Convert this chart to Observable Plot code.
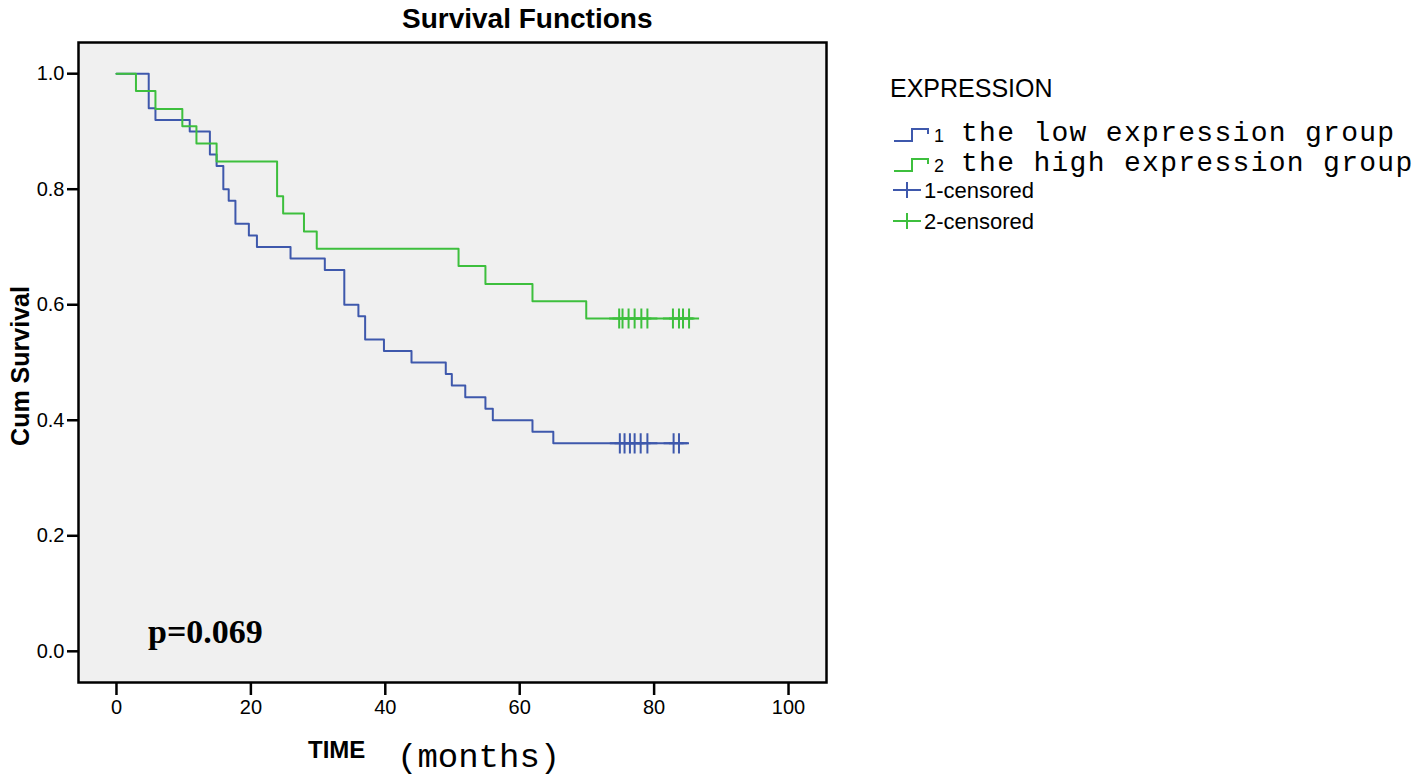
<!DOCTYPE html>
<html><head><meta charset="utf-8">
<script src="https://cdn.jsdelivr.net/npm/d3@7"></script>
<script src="https://cdn.jsdelivr.net/npm/@observablehq/plot@0.6"></script>
<style>body{margin:0;background:#fff;}</style>
</head><body><div id="chart"></div>
<script>
// ---- data ----
const groupNames = ["the low expression group", "the high expression group"];
const groupCodes = ["1", "2"];
const groupColors = ["#3e58ac", "#3dbf3d"];
const censorLabels = ["1-censored", "2-censored"];
const legendTitle = "EXPRESSION";

// low expression group (1): event times and survival after each step
const lowTimes = [0, 4.8, 5.8, 10.9, 13.9, 14.9, 15.9, 16.7, 17.7, 19.7, 20.9, 25.9, 31.0, 33.9, 36.0, 37.0, 39.8, 43.9, 49.0, 49.9, 51.9, 54.9, 56.0, 61.9, 65.0, 84.9];
const lowSurv  = [1.0, 0.94, 0.92, 0.90, 0.86, 0.84, 0.80, 0.78, 0.74, 0.72, 0.70, 0.68, 0.66, 0.60, 0.58, 0.54, 0.52, 0.50, 0.48, 0.46, 0.44, 0.42, 0.40, 0.38, 0.36, 0.36];
const lowCensorTimes = [74.9, 75.6, 76.4, 77.1, 78.0, 79.0, 82.9, 83.7];
const lowCensorSurv = 0.36;

// high expression group (2)
const highTimes = [0, 2.9, 5.8, 9.8, 11.9, 14.9, 23.9, 24.8, 27.9, 29.8, 50.9, 54.9, 61.9, 69.9, 85.9];
const highSurv  = [1.0, 0.970, 0.939, 0.909, 0.879, 0.848, 0.788, 0.758, 0.727, 0.697, 0.667, 0.636, 0.606, 0.576, 0.576];
const highCensorTimes = [74.8, 75.3, 76.2, 77.1, 78.1, 79.0, 82.8, 83.7, 84.3, 85.2];
const highCensorSurv = 0.576;

const xTicks = [0, 20, 40, 60, 80, 100];
const yTicks = [0, 0.2, 0.4, 0.6, 0.8, 1.0];
const titleText = "Survival Functions";
const yLabel = "Cum Survival";
const xLabelA = "TIME";
const xLabelB = "(months)";
const pText = "p=0.069";

// ---- build tables ----
const lowRows = lowTimes.map((t, i) => ({time: t, surv: lowSurv[i]}));
const highRows = highTimes.map((t, i) => ({time: t, surv: highSurv[i]}));
const lowCens = lowCensorTimes.map(t => ({time: t, surv: lowCensorSurv}));
const highCens = highCensorTimes.map(t => ({time: t, surv: highCensorSurv}));

const W = 1418, H = 776;
const plot = Plot.plot({
  width: W, height: H,
  marginLeft: 78, marginTop: 42, marginRight: 592, marginBottom: 94,
  style: {fontFamily: "'Liberation Sans', Arial, sans-serif", fontSize: "19px", color: "#000", background: "#fff", overflow: "visible"},
  x: {domain: [-5.65, 105.65]},
  y: {domain: [-0.054, 1.054]},
  marks: [
    Plot.frame({fill: "#f0f0f0"}),
    Plot.line(lowRows, {x: "time", y: "surv", curve: "step-after", stroke: groupColors[0], strokeWidth: 2}),
    Plot.line(highRows, {x: "time", y: "surv", curve: "step-after", stroke: groupColors[1], strokeWidth: 2}),
    Plot.dot(lowCens, {x: "time", y: "surv", symbol: "plus", r: 6.5, stroke: groupColors[0], strokeWidth: 2}),
    Plot.dot(highCens, {x: "time", y: "surv", symbol: "plus", r: 6.5, stroke: groupColors[1], strokeWidth: 2}),
    Plot.frame({stroke: "#000", strokeWidth: 2.5}),
    Plot.axisX({ticks: xTicks, tickSize: 13, tickPadding: 4, strokeWidth: 2.5, label: null}),
    Plot.axisY({ticks: yTicks, tickFormat: d3.format(".1f"), tickSize: 11, tickPadding: 3, strokeWidth: 2.5, label: null})
  ]
});
document.getElementById("chart").appendChild(plot);

const svg = d3.select(plot);
// enlarge tick labels to match the reference
svg.selectAll("g[aria-label='x-axis tick label'], g[aria-label='y-axis tick label']")
  .attr("font-size", 20).style("font-size", "20px");
svg.selectAll("g[aria-label='x-axis tick label'] text, g[aria-label='y-axis tick label'] text")
  .style("font-size", "20px");

// ---- extra texts and legend drawn into the svg ----
const g = svg.append("g").attr("fill", "#000").attr("text-anchor", "start");
const sans = "'Liberation Sans', Arial, sans-serif";
const mono = "'Liberation Mono', 'DejaVu Sans Mono', monospace";

g.append("text").text(titleText).attr("x", 402).attr("y", 28)
  .attr("font-family", sans).attr("font-weight", "bold").attr("font-size", 28);

g.append("text").text(yLabel).attr("text-anchor", "middle")
  .attr("transform", "translate(29,366) rotate(-90)")
  .attr("font-family", sans).attr("font-weight", "bold").attr("font-size", 25);

g.append("text").text(xLabelA).attr("x", 308).attr("y", 758)
  .attr("font-family", sans).attr("font-weight", "bold").attr("font-size", 24);
g.append("text").text(xLabelB).attr("x", 397).attr("y", 767)
  .attr("font-family", mono).attr("font-size", 34);

g.append("text").text(pText).attr("x", 148).attr("y", 643)
  .attr("font-family", "'Liberation Serif', 'Times New Roman', serif").attr("font-weight", "bold").attr("font-size", 34);

// legend
g.append("text").text(legendTitle).attr("x", 890).attr("y", 97)
  .attr("font-family", sans).attr("font-size", 25);

const rowY = [131, 161];
groupNames.forEach((name, i) => {
  const y = rowY[i];
  g.append("path").attr("d", `M894,${y+10}H912V${y-2}H928V${y+3}`)
    .attr("fill", "none").attr("stroke", groupColors[i]).attr("stroke-width", 2);
  g.append("text").text(groupCodes[i]).attr("x", 934).attr("y", y + 11)
    .attr("font-family", sans).attr("font-size", 18);
  g.append("text").text(name).attr("x", 961).attr("y", y + 10)
    .attr("font-family", mono).attr("font-size", 28).attr("letter-spacing", 1.3);
});
const cRowY = [190, 221];
censorLabels.forEach((name, i) => {
  const y = cRowY[i];
  g.append("path").attr("d", `M893,${y}H921M907,${y-8}V${y+8}`)
    .attr("fill", "none").attr("stroke", groupColors[i]).attr("stroke-width", 2);
  g.append("text").text(name).attr("x", 924).attr("y", y + 8)
    .attr("font-family", sans).attr("font-size", 22);
});
</script>
</body></html>
